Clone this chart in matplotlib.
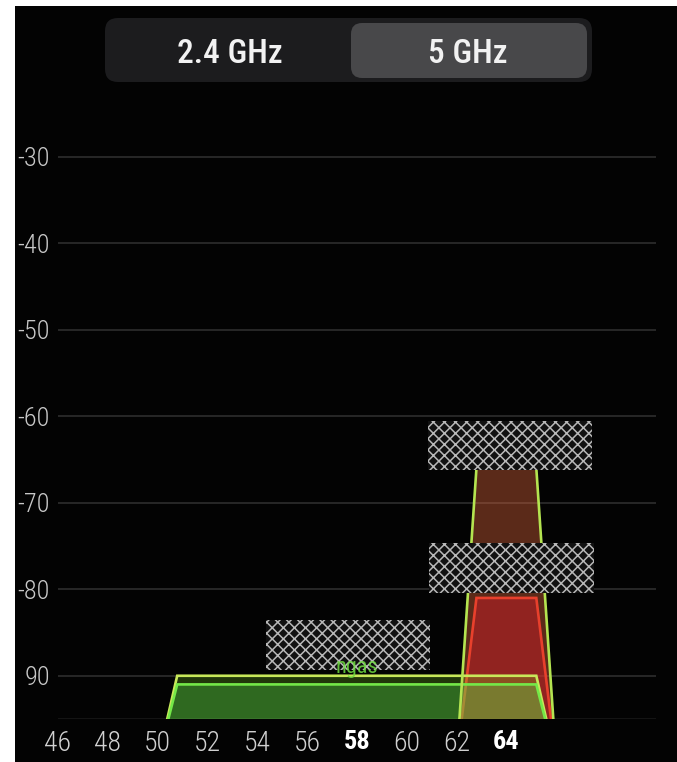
import matplotlib
matplotlib.use("Agg")
import matplotlib.pyplot as plt
from matplotlib import font_manager as fm
from matplotlib.patches import Polygon, Rectangle, FancyBboxPatch

# ---------------- data ----------------
tabs = ["2.4 GHz", "5 GHz"]
selected_tab = 1

channel_ticks = [46, 48, 50, 52, 54, 56, 58, 60, 62, 64]
channel_labels = ["46", "48", "50", "52", "54", "56", "58", "60", "62", "64"]
bold_channels = [58, 64]

level_ticks = [-30, -40, -50, -60, -70, -80, -90]
level_labels = ["-30", "-40", "-50", "-60", "-70", "-80", "90"]

# networks: centre channel, width in channel numbers, signal level (dBm)
net_channel = [64, 64, 58, 58]
net_width = [4, 4, 16, 16]
net_level = [-66, -81, -90, -91]
net_edge = ["#b4e450", "#e8402c", "#c8e85a", "#74e848"]
net_face = ["#e0663c", "#c81e28", "#7cd421", "#50e054"]
net_alpha = [0.40, 0.50, 0.25, 0.30]
visible_ssid = ["", "", "", "ngas"]          # partly readable label

FLOOR = -100
SPREAD = 0.8

# ---------- pick a condensed font if one is installed ----------
def _stretch_val(s):
    table = {"ultra-condensed": 100, "extra-condensed": 200, "condensed": 300,
             "semi-condensed": 400, "normal": 500}
    if isinstance(s, str):
        return table.get(s, 500)
    return int(s)

pref = ["Roboto Condensed", "Liberation Sans Narrow", "Open Sans Condensed",
        "Noto Sans", "Roboto", "Open Sans", "DejaVu Sans", "Lato", "Inter"]
best = None
for f in fm.fontManager.ttflist:
    sv = _stretch_val(f.stretch)
    narrow_name = ("Condensed" in f.name) or ("Narrow" in f.name)
    if sv < 500 or narrow_name:
        rank = pref.index(f.name) if f.name in pref else len(pref)
        key = (rank, -sv)
        if best is None or key < best[0]:
            best = (key, f.name, f.stretch)
if best is not None:
    cond_family, cond_stretch = best[1], best[2]
    LABEL_SCALE = 1.0
else:
    names = {f.name for f in fm.fontManager.ttflist}
    cond_family = "Roboto" if "Roboto" in names else "DejaVu Sans"
    cond_stretch = "normal"
    LABEL_SCALE = 0.85

def fp(size, weight="normal"):
    return fm.FontProperties(family=cond_family, stretch=cond_stretch,
                             size=size * LABEL_SCALE, weight=weight)

W, H = 677, 762
fig = plt.figure(figsize=(W / 100, H / 100), dpi=100, facecolor="white")

# ---------- background / tab bar (pixel space) ----------
bg = fig.add_axes([0, 0, 1, 1], zorder=0)
bg.set_xlim(0, W)
bg.set_ylim(0, H)
bg.axis("off")
bg.add_patch(Rectangle((15, 0), W - 15, H - 6, facecolor="#030303", edgecolor="none"))
bg.add_patch(FancyBboxPatch((105, 680), 487, 64,
                            boxstyle="round,pad=0,rounding_size=13",
                            facecolor="#1c1c1e", edgecolor="none"))
bg.add_patch(FancyBboxPatch((351, 684), 236, 55,
                            boxstyle="round,pad=0,rounding_size=11",
                            facecolor="#48484a", edgecolor="none"))
for i, (t, cx) in enumerate(zip(tabs, [230, 468])):
    bg.text(cx, 699, t, ha="center", va="baseline", color="#f2f2f2",
            fontproperties=fp(24, "medium"))

# ---------- chart ----------
ax = fig.add_axes([57.5 / W, 43 / H, 598.5 / W, (719 - 113.7) / H], zorder=1)
ax.patch.set_visible(False)
ax.set_xlim(46, 70)
ax.set_ylim(-95, -25)
for s in ax.spines.values():
    s.set_visible(False)

ax.set_yticks(level_ticks, level_labels)
ax.set_yticks([-95], minor=True)
ax.set_xticks(channel_ticks, channel_labels)
ax.tick_params(axis="both", which="both", length=0)
ax.tick_params(axis="y", pad=5.5, labelcolor="#c8c8c8")
ax.tick_params(axis="x", pad=8, labelcolor="#d0d0d0")
for lab in ax.get_yticklabels():
    lab.set_fontproperties(fp(19, "light"))
for lab, ch in zip(ax.get_xticklabels(), channel_ticks):
    if ch in bold_channels:
        lab.set_fontproperties(fp(19, "bold"))
        lab.set_color("white")
    else:
        lab.set_fontproperties(fp(20, "light"))
ax.yaxis.grid(True, which="major", color="#2a2a2a", linewidth=1.3)
ax.yaxis.grid(True, which="minor", color="#161616", linewidth=1.3)
ax.xaxis.grid(False)
ax.set_axisbelow(True)

fill_z = [2, 3, 4, 5]
edge_z = [7, 3.5, 6, 6.5]
for i in range(len(net_channel)):
    x0 = net_channel[i] - net_width[i] / 2
    x1 = net_channel[i] + net_width[i] / 2
    pts = [(x0, FLOOR), (x0 + SPREAD, net_level[i]), (x1 - SPREAD, net_level[i]), (x1, FLOOR)]
    ax.add_patch(Polygon(pts, closed=False, facecolor=net_face[i], alpha=net_alpha[i],
                         edgecolor="none", zorder=fill_z[i]))
    ax.add_patch(Polygon(pts, closed=False, facecolor="none", edgecolor=net_edge[i],
                         linewidth=1.9, zorder=edge_z[i], joinstyle="miter"))
    if visible_ssid[i]:
        ax.text(net_channel[i], net_level[i] + 1.35, visible_ssid[i], ha="center",
                va="baseline", color="#6fdc40", alpha=0.85, zorder=10,
                fontproperties=fp(16))

# pixelated SSID boxes (centre channel, bottom level)
plt.rcParams["hatch.linewidth"] = 1.1
box_x = [64.15, 64.2, 57.65]
box_y = [-66.2, -80.4, -89.3]
for bx, by in zip(box_x, box_y):
    ax.add_patch(Rectangle((bx - 3.3, by), 6.6, 5.7, facecolor="#111111",
                           edgecolor="#b8b8b8", hatch="xxx", linewidth=0, zorder=9))

fig.savefig("out.png", dpi=100, facecolor="white")
